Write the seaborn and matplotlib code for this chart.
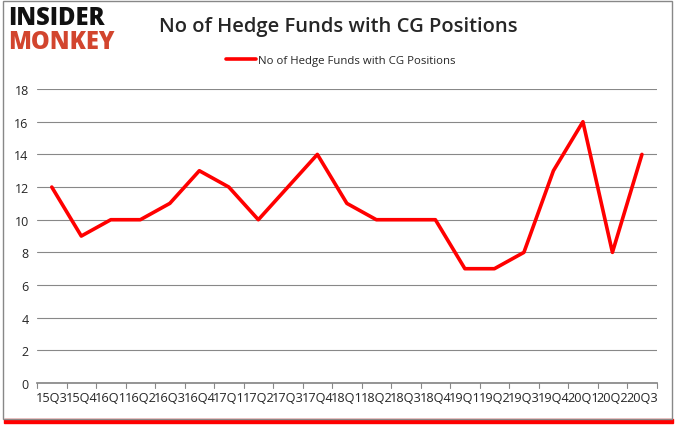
import matplotlib
matplotlib.use("Agg")
import matplotlib.pyplot as plt
import matplotlib.patches as mpatches
import pandas as pd
import seaborn as sns

# data
quarters = ["15Q3", "15Q4", "16Q1", "16Q2", "16Q3", "16Q4", "17Q1", "17Q2", "17Q3",
            "17Q4", "18Q1", "18Q2", "18Q3", "18Q4", "19Q1", "19Q2", "19Q3", "19Q4",
            "20Q1", "20Q2", "20Q3"]
funds = [12, 9, 10, 10, 11, 13, 12, 10, 12, 14, 11, 10, 10, 10, 7, 7, 8, 13, 16, 8, 14]
series_name = "No of Hedge Funds with CG Positions"

df = pd.DataFrame({"quarter": quarters, "funds": funds})
df["pos"] = range(len(df))

sns.set_theme(style="white")
plt.rcParams['font.family'] = ['Open Sans', 'DejaVu Sans']

fig = plt.figure(figsize=(6.77, 4.31), dpi=100)
ax = fig.add_axes([0.0547, 0.109, 0.9153, 0.682])

sns.lineplot(data=df, x="pos", y="funds", color="#FF0000", linewidth=2.6,
             label=series_name, ax=ax)

ax.set_xlim(-0.5, len(quarters) - 0.5)
ax.set_ylim(0, 18)
ax.set_yticks(range(0, 19, 2))
ax.set_xticks(range(len(quarters)))
ax.set_xticklabels(quarters, fontsize=9.2)
ax.tick_params(axis="y", labelsize=9, length=0, pad=6)
ax.tick_params(axis="x", length=0, pad=6)
# tick marks between categories
for b in [i - 0.5 for i in range(len(quarters) + 1)]:
    ax.plot([b, b], [0, -0.28], color="#888888", linewidth=0.8, clip_on=False)
ax.set_xlabel("")
ax.set_ylabel("")
ax.yaxis.grid(True, color="#888888", linewidth=0.8)
for s in ["top", "right", "left"]:
    ax.spines[s].set_visible(False)
ax.spines["bottom"].set_color("#888888")

ax.legend(loc="upper center", bbox_to_anchor=(0.49, 1.15), frameon=False,
          fontsize=8.2, handlelength=2.6, handletextpad=0.2)

fig.text(0.5, 0.937, series_name, ha="center", va="center",
         fontsize=14.5, fontweight="semibold")

# logo
fig.text(0.012, 0.958, "INSIDER", ha="left", va="center", fontsize=17,
         fontweight="heavy", color="#111111", stretch="condensed")
fig.text(0.012, 0.902, "MONKEY", ha="left", va="center", fontsize=17,
         fontweight="heavy", color="#D2452E", stretch="condensed")

# frame with red shadow at the bottom
fig.patches.append(mpatches.Rectangle((0.006, 0.016), 0.988, 0.01, transform=fig.transFigure,
                                      color="#FF0000", zorder=0))
fig.patches.append(mpatches.Rectangle((0.004, 0.026), 0.988, 0.97, transform=fig.transFigure,
                                      fill=False, edgecolor="#888888", linewidth=1.0))

fig.savefig("out.png", dpi=100)
